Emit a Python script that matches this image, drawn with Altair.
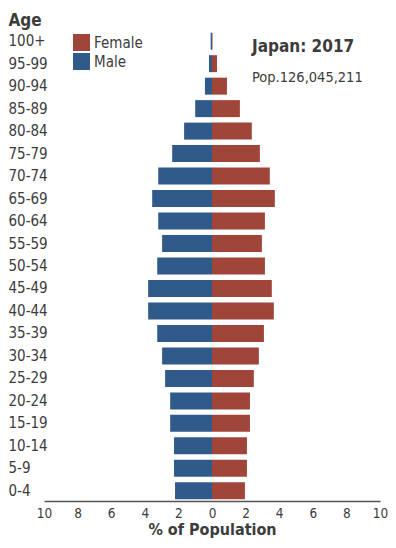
import altair as alt
import pandas as pd

ages = ["100+", "95-99", "90-94", "85-89", "80-84", "75-79", "70-74", "65-69",
        "60-64", "55-59", "50-54", "45-49", "40-44", "35-39", "30-34", "25-29",
        "20-24", "15-19", "10-14", "5-9", "0-4"]
male = [0.08, 0.18, 0.42, 1.0, 1.66, 2.37, 3.2, 3.56, 3.2, 2.97, 3.26, 3.8,
        3.8, 3.26, 2.97, 2.79, 2.49, 2.49, 2.26, 2.26, 2.2]
female = [0.03, 0.3, 0.89, 1.66, 2.37, 2.85, 3.44, 3.74, 3.15, 2.97, 3.15, 3.56,
          3.68, 3.09, 2.79, 2.49, 2.26, 2.26, 2.08, 2.08, 1.96]
sexes = ["Female", "Male"]
colors = ["#A0453A", "#2F5A8A"]
x_ticks = [-10, -8, -6, -4, -2, 0, 2, 4, 6, 8, 10]
title_text = "Japan: 2017"
pop_text = "Pop.126,045,211"

FONT = "DejaVu Sans Condensed, Liberation Sans Narrow, sans-serif"
TXT = "#3c3c3c"

rows = []
for a, m, f in zip(ages, male, female):
    rows.append({"age": a, "sex": "Male", "value": -m})
    rows.append({"age": a, "sex": "Female", "value": f})
df = pd.DataFrame(rows)

bars = alt.Chart(df).mark_bar().encode(
    x=alt.X("value:Q",
            scale=alt.Scale(domain=[-10, 10], nice=False, zero=False),
            axis=alt.Axis(values=x_ticks, labelExpr="abs(datum.value)",
                          title="% of Population", grid=False, ticks=False,
                          domainColor="#555555", domainWidth=1.5,
                          labelFlush=False, labelOverlap=False,
                          labelFontSize=13.5, labelPadding=5, labelColor=TXT,
                          labelFont=FONT, titleFont=FONT, titleFontSize=16,
                          titleFontWeight="bold", titleColor=TXT, titlePadding=2)),
    y=alt.Y("age:N", sort=ages,
            scale=alt.Scale(paddingInner=0.244, paddingOuter=0.075),
            axis=alt.Axis(title="Age", titleAngle=0, titleAlign="left",
                          titleX=-36, titleY=-6, titleBaseline="alphabetic",
                          titleFont=FONT, titleFontSize=17, titleFontWeight="bold",
                          titleColor=TXT, labelAlign="left", labelPadding=36,
                          labelFont=FONT, labelFontSize=15, labelColor=TXT,
                          ticks=False, domain=False, grid=False)),
    color=alt.Color("sex:N", scale=alt.Scale(domain=sexes, range=colors),
                    legend=alt.Legend(title=None, orient="none", legendX=29,
                                      legendY=3, symbolType="square",
                                      symbolSize=289, symbolStrokeWidth=0,
                                      symbolOpacity=1, labelFontSize=15,
                                      labelFont=FONT, labelColor=TXT,
                                      labelOffset=4, rowPadding=2, padding=0)),
)

t1 = alt.Chart(pd.DataFrame({"t": [title_text]})).mark_text(
    align="left", baseline="alphabetic", font=FONT, fontSize=17,
    fontWeight="bold", color=TXT).encode(
    text="t:N", x=alt.value(208), y=alt.value(21))
t2 = alt.Chart(pd.DataFrame({"t": [pop_text]})).mark_text(
    align="left", baseline="alphabetic", font=FONT, fontSize=14.5,
    color=TXT).encode(
    text="t:N", x=alt.value(208), y=alt.value(51))

chart = alt.layer(bars, t1, t2).properties(
    width=336, height=470,
    autosize=alt.AutoSizeParams(type="none"),
    padding={"left": 36, "top": 23, "right": 8, "bottom": 39},
).configure_view(stroke=None)

chart.save("out.html", embed_options={"renderer": "svg", "actions": False})
